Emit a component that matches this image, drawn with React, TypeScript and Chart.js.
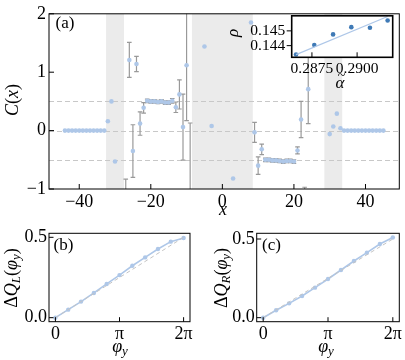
import React, { useEffect, useRef } from "react";
import { Chart, registerables } from "chart.js";
Chart.register(...registerables);

const SERIF = "'Liberation Serif', 'DejaVu Serif', serif";

// ---------- Panel (a) ----------
const cX = [-44, -43, -42, -41, -40, -39, -38, -37, -36, -35, -34, -33, -32, -31, -30, -27, -26, -25, -24, -23, -22, -21, -20, -19, -18, -17, -16, -15, -14, -13, -12, -11, -10, -9, -5, -3, 3, 8, 9, 10, 11, 12, 13, 14, 15, 16, 17, 18, 19, 20, 21, 22, 23, 24, 30, 31, 32, 33, 34, 35, 36, 37, 38, 39, 40, 41, 42, 43, 44, 45];
const cY = [0, 0, 0, 0, 0, 0, 0, 0, 0, 0, 0, 0, 0.16, 0.5, -0.53, -1.3, 1.21, -0.35, 1.14, 0.12, 0.39, 0.51, 0.5, 0.5, 0.49, 0.5, 0.48, 0.48, 0.51, 0.4, 0.62, 0.06, 1.12, -1.5, 1.44, 0.08, -0.82, 1.85, -0.03, -0.6, -0.32, -0.5, -0.5, -0.51, -0.51, -0.52, -0.53, -0.52, -0.52, -0.53, -0.34, 0.19, -1.2, 0.71, -0.06, 0.07, 0.29, 0.04, 0, 0, 0, 0, 0, 0, 0, 0, 0, 0, 0, 0];
const cErr = [null, null, null, null, null, null, null, null, null, null, null, null, null, null, null, 0.47, 0.3, 0.45, 0.13, 0.2, 0.09, 0.03, 0.03, 0.03, 0.03, 0.03, 0.03, 0.03, 0.04, 0.09, 0.25, 0.565, 0.95, 1.63, null, null, null, null, 0.17, 0.15, 0.09, 0.03, 0.03, 0.03, 0.03, 0.03, 0.03, 0.03, 0.03, 0.03, 0.06, 0.31, 0.23, 0.59, null, null, null, null, null, null, null, null, null, null, null, null, null, null, null, null];
const shadeLo = [-32.5, -8.5, 28.5];
const shadeHi = [-27.5, 8.5, 33.5];
const refLevels = [0.5, 0, -0.5];
const aXTicks = [-40, -20, 0, 20, 40];
const aYTicks = [-1, 0, 1, 2];

// ---------- Inset ----------
const alphaX = [0.28662, 0.28763, 0.28867, 0.28968, 0.29071, 0.29169];
const rhoY = [0.1434, 0.14404, 0.14476, 0.14525, 0.14521, 0.1457];
const fitX = [0.28662, 0.29169];
const fitY = [0.14339, 0.14597];
const insetXTicks = [0.2875, 0.29];
const insetXLabels = ["0.2875", "0.2900"];
const insetYTicks = [0.144, 0.145];
const insetYLabels = ["0.144", "0.145"];

// ---------- Panels (b), (c) ----------
const phiY = [0, 0.628, 1.257, 1.885, 2.513, 3.142, 3.77, 4.398, 5.027, 5.655, 6.283];
const qL = [0, 0.05, 0.1, 0.154, 0.21, 0.265, 0.323, 0.375, 0.427, 0.473, 0.496];
const qR = [0, 0.047, 0.091, 0.138, 0.191, 0.246, 0.303, 0.36, 0.413, 0.468, 0.51];
const refPhi = [0, 6.283];
const refQ = [0, 0.5];
const phiTicks = [0, 3.1416, 6.2832];
const phiLabels = ["0", "π", "2π"];
const qTicks = [0, 0.5];
const qLabels = ["0.0", "0.5"];

const PT = "#aec7e8";
const PT_DARK = "#3f7ab6";

type Run = { t: string; it?: boolean; sub?: boolean };
type TextItem = { x: number; y: number; rot?: number; size: number; runs: Run[] };

function drawRuns(ctx: CanvasRenderingContext2D, item: TextItem) {
  const { size } = item;
  ctx.save();
  ctx.translate(item.x, item.y);
  if (item.rot) ctx.rotate(item.rot);
  const fontOf = (r: Run) => `${r.it ? "italic " : ""}${r.sub ? Math.round(size * 0.7) : size}px ${SERIF}`;
  let total = 0;
  item.runs.forEach((r) => {
    ctx.font = fontOf(r);
    total += ctx.measureText(r.t).width;
  });
  let cx = -total / 2;
  ctx.textBaseline = "middle";
  ctx.textAlign = "left";
  ctx.fillStyle = "#000";
  item.runs.forEach((r) => {
    ctx.font = fontOf(r);
    ctx.fillText(r.t, cx, r.sub ? size * 0.28 : 0);
    cx += ctx.measureText(r.t).width;
  });
  ctx.restore();
}

const decor = {
  id: "decor",
  beforeDatasetsDraw(chart: any, _a: any, o: any) {
    const { ctx, chartArea: a, scales } = chart;
    const x = scales.x, y = scales.y;
    ctx.save();
    if (o.bg) {
      ctx.fillStyle = o.bg;
      ctx.fillRect(a.left, a.top, a.right - a.left, a.bottom - a.top);
    }
    ctx.beginPath();
    ctx.rect(a.left, a.top, a.right - a.left, a.bottom - a.top);
    ctx.clip();
    if (o.shades) {
      ctx.fillStyle = "#ebebeb";
      o.shades.lo.forEach((lo: number, i: number) => {
        const p0 = x.getPixelForValue(lo), p1 = x.getPixelForValue(o.shades.hi[i]);
        ctx.fillRect(p0, a.top, p1 - p0, a.bottom - a.top);
      });
    }
    if (o.hlines) {
      ctx.strokeStyle = "#c8c8c8";
      ctx.lineWidth = 1;
      ctx.setLineDash([5, 3]);
      o.hlines.forEach((v: number) => {
        const py = Math.round(y.getPixelForValue(v)) + 0.5;
        ctx.beginPath();
        ctx.moveTo(a.left, py);
        ctx.lineTo(a.right, py);
        ctx.stroke();
      });
      ctx.setLineDash([]);
    }
    if (o.err) {
      ctx.strokeStyle = "#999999";
      ctx.lineWidth = 1.2;
      const { xs, ys, es } = o.err;
      xs.forEach((xv: number, i: number) => {
        const e = es[i];
        if (e == null) return;
        const px = x.getPixelForValue(xv);
        const pt = y.getPixelForValue(ys[i] + e);
        const pb = y.getPixelForValue(ys[i] - e);
        ctx.beginPath();
        ctx.moveTo(px, pt);
        ctx.lineTo(px, pb);
        ctx.moveTo(px - 2.3, pt);
        ctx.lineTo(px + 2.3, pt);
        ctx.moveTo(px - 2.3, pb);
        ctx.lineTo(px + 2.3, pb);
        ctx.stroke();
      });
    }
    ctx.restore();
  },
  afterDraw(chart: any, _a: any, o: any) {
    const { ctx, chartArea: a, scales } = chart;
    const x = scales.x, y = scales.y;
    ctx.save();
    ctx.strokeStyle = "#000";
    ctx.lineWidth = o.lw || 1;
    ctx.strokeRect(a.left, a.top, a.right - a.left, a.bottom - a.top);
    const len = o.tickLen || 4.5;
    ctx.lineWidth = 1;
    ctx.beginPath();
    x.ticks.forEach((t: any) => {
      const px = x.getPixelForValue(t.value);
      ctx.moveTo(px, a.bottom);
      ctx.lineTo(px, a.bottom + (o.xOut ? len : -len));
    });
    y.ticks.forEach((t: any) => {
      const py = y.getPixelForValue(t.value);
      ctx.moveTo(a.left, py);
      ctx.lineTo(a.left + (o.yOut ? -len : len), py);
    });
    ctx.stroke();
    ctx.restore();
    (o.texts || []).forEach((t: TextItem) => drawRuns(ctx, t));
  },
};

function axis(opts: {
  min: number; max: number; ticks: number[]; labels: string[]; size: number;
  pad: number; fit: number; horizontal: boolean;
}) {
  return {
    type: "linear",
    min: opts.min,
    max: opts.max,
    grid: { display: false, drawTicks: false },
    border: { display: false },
    afterBuildTicks: (s: any) => {
      s.ticks = opts.ticks.map((v) => ({ value: v }));
    },
    afterFit: (s: any) => {
      if (opts.horizontal) s.height = opts.fit;
      else s.width = opts.fit;
    },
    ticks: {
      autoSkip: false,
      maxRotation: 0,
      padding: opts.pad,
      color: "#000",
      font: { family: SERIF, size: opts.size },
      callback: (v: number) => {
        const i = opts.ticks.findIndex((t) => Math.abs(t - v) < 1e-9);
        return i >= 0 ? opts.labels[i] : "";
      },
    },
  };
}

function useChart(ref: React.RefObject<HTMLCanvasElement>, make: () => any) {
  useEffect(() => {
    const c = new Chart(ref.current as HTMLCanvasElement, make());
    return () => c.destroy();
  }, []);
}

const pts = (xs: number[], ys: number[]) => xs.map((v, i) => ({ x: v, y: ys[i] }));
const minusLabel = (v: number) => (v < 0 ? "−" + -v : String(v));

export default function App() {
  const mainRef = useRef<HTMLCanvasElement>(null);
  const insetRef = useRef<HTMLCanvasElement>(null);
  const bRef = useRef<HTMLCanvasElement>(null);
  const cRef = useRef<HTMLCanvasElement>(null);

  const base = {
    responsive: false,
    animation: false,
    devicePixelRatio: 1,
    events: [],
  };
  const noPlug = { legend: { display: false }, tooltip: { enabled: false } };

  useChart(mainRef, () => ({
    type: "scatter",
    data: {
      datasets: [
        {
          data: pts(cX, cY),
          backgroundColor: PT,
          borderWidth: 0,
          pointRadius: 2.3,
          clip: 0,
        },
      ],
    },
    plugins: [decor],
    options: {
      ...base,
      layout: { padding: { left: 0, right: 5.7, top: 10, bottom: 0 } },
      scales: {
        x: axis({ min: -48.45, max: 49.45, ticks: aXTicks, labels: aXTicks.map(minusLabel), size: 18, pad: 2, fit: 29, horizontal: true }),
        y: axis({ min: -1, max: 2, ticks: aYTicks, labels: aYTicks.map(minusLabel), size: 18, pad: 3, fit: 49, horizontal: false }),
      },
      plugins: {
        ...noPlug,
        decor: {
          shades: { lo: shadeLo, hi: shadeHi },
          hlines: refLevels,
          err: { xs: cX, ys: cY, es: cErr },
          tickLen: 5,
          texts: [
            { x: 65, y: 24, size: 17, runs: [{ t: "(a)" }] },
            { x: 13, y: 100, rot: -Math.PI / 2, size: 18, runs: [{ t: "C", it: true }, { t: "(" }, { t: "x", it: true }, { t: ")" }] },
            { x: 223, y: 210, size: 18, runs: [{ t: "x", it: true }] },
          ],
        },
      },
    },
  }));

  useChart(insetRef, () => ({
    type: "scatter",
    data: {
      datasets: [
        {
          data: pts(fitX, fitY),
          showLine: true,
          borderColor: PT,
          borderWidth: 1.2,
          pointRadius: 0,
        },
        {
          data: pts(alphaX, rhoY),
          backgroundColor: PT_DARK,
          borderWidth: 0,
          pointRadius: 2.3,
        },
      ],
    },
    plugins: [decor],
    options: {
      ...base,
      layout: { padding: { left: 0, right: 12.3, top: 13.3, bottom: 0 } },
      scales: {
        x: axis({ min: 0.28638, max: 0.29197, ticks: insetXTicks, labels: insetXLabels, size: 15.5, pad: 2, fit: 37.7, horizontal: true }),
        y: axis({ min: 0.14321, max: 0.14602, ticks: insetYTicks, labels: insetYLabels, size: 15.5, pad: 6.5, fit: 66.7, horizontal: false }),
      },
      plugins: {
        ...noPlug,
        decor: {
          bg: "#ffffff",
          lw: 1.6,
          yOut: true,
          tickLen: 5,
          texts: [
            { x: 9, y: 33, rot: -Math.PI / 2, size: 17, runs: [{ t: "ρ", it: true }] },
            { x: 115, y: 84, size: 17, runs: [{ t: "α", it: true }] },
            { x: 116.5, y: 76.5, size: 14, runs: [{ t: "~" }] },
          ],
        },
      },
    },
  }));

  const sub = (which: "b" | "c", ref: React.RefObject<HTMLCanvasElement>, ys: number[], yMax: number, yFit: number, padRight: number, labelX: number, titleX: number, xTitleX: number, sym: string) =>
    useChart(ref, () => ({
      type: "scatter",
      data: {
        datasets: [
          {
            data: pts(refPhi, refQ),
            showLine: true,
            borderColor: "#c4c4c4",
            borderWidth: 1,
            borderDash: [4, 3],
            pointRadius: 0,
          },
          {
            data: pts(phiY, ys),
            showLine: true,
            borderColor: PT,
            backgroundColor: PT,
            borderWidth: 1.6,
            pointRadius: 2.2,
            pointBorderWidth: 0,
          },
        ],
      },
      plugins: [decor],
      options: {
        ...base,
        layout: { padding: { left: 0, right: padRight, top: 15.3, bottom: 0 } },
        scales: {
          x: axis({ min: -0.314, max: 6.597, ticks: phiTicks, labels: phiLabels, size: 18, pad: 2, fit: 38.3, horizontal: true }),
          y: axis({ min: -0.05 * yMax, max: 1.05 * yMax, ticks: qTicks, labels: qLabels, size: 18, pad: 2, fit: yFit, horizontal: false }),
        },
        plugins: {
          ...noPlug,
          decor: {
            tickLen: 4.5,
            texts: [
              { x: labelX, y: 28, size: 17, runs: [{ t: `(${which})` }] },
              {
                x: titleX, y: 60, rot: -Math.PI / 2, size: 18,
                runs: [{ t: "Δ" }, { t: "Q", it: true }, { t: sym, it: true, sub: true }, { t: "(" }, { t: "φ", it: true }, { t: "y", it: true, sub: true }, { t: ")" }],
              },
              { x: xTitleX, y: 129, size: 18, runs: [{ t: "φ", it: true }, { t: "y", it: true, sub: true }] },
            ],
          },
        },
      },
    }));

  sub("b", bRef, qL, 0.5, 49, 10, 63.5, 12, 120, "L");
  sub("c", cRef, qR, 0.5107, 56.7, 5.7, 71.5, 22, 126, "R");

  return (
    <div style={{ position: "fixed", left: 0, top: 0, width: 405, height: 360, background: "#fff" }}>
      <canvas ref={mainRef} width={405} height={218} style={{ position: "absolute", left: 0, top: 0 }} />
      <canvas ref={insetRef} width={180} height={95} style={{ position: "absolute", left: 225, top: 0 }} />
      <canvas ref={bRef} width={200} height={142} style={{ position: "absolute", left: 0, top: 218 }} />
      <canvas ref={cRef} width={205} height={142} style={{ position: "absolute", left: 200, top: 218 }} />
    </div>
  );
}
